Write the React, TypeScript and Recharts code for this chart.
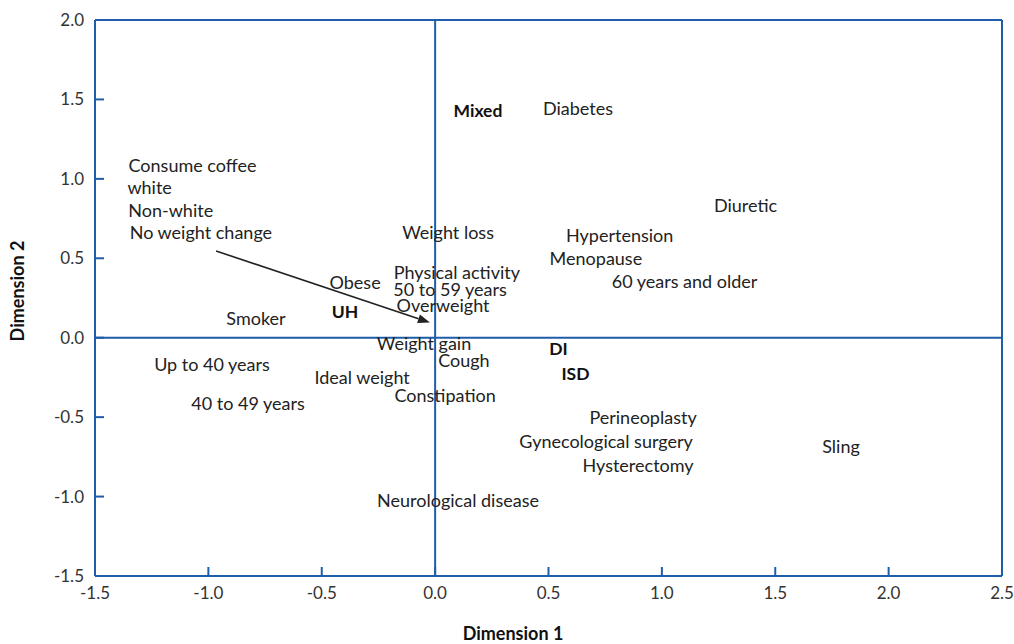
import { ScatterChart, Scatter, XAxis, YAxis, ReferenceLine, Label } from 'recharts';

// outcome groups (drawn bold)
const groupNames = ['Mixed', 'UH', 'DI', 'ISD'];
const groupX = [0.189, -0.397, 0.544, 0.619];
const groupY = [1.427, 0.162, -0.071, -0.228];

// risk factors
const variableNames = [
  'Diabetes', 'Consume coffee', 'white', 'Non-white', 'No weight change', 'Weight loss',
  'Hypertension', 'Menopause', '60 years and older', 'Diuretic', 'Physical activity',
  '50 to 59 years', 'Overweight', 'Obese', 'Smoker', 'Weight gain', 'Cough', 'Ideal weight',
  'Constipation', 'Up to 40 years', '40 to 49 years', 'Perineoplasty', 'Gynecological surgery',
  'Hysterectomy', 'Sling', 'Neurological disease',
];
const variableX = [
  0.63, -1.07, -1.259, -1.166, -1.033, 0.057,
  0.814, 0.709, 1.1, 1.369, 0.096,
  0.066, 0.035, -0.353, -0.79, -0.049, 0.127, -0.322,
  0.044, -0.984, -0.825, 0.917, 0.754,
  0.895, 1.79, 0.101,
];
const variableY = [
  1.44, 1.081, 0.942, 0.798, 0.659, 0.659,
  0.643, 0.496, 0.351, 0.832, 0.407,
  0.304, 0.203, 0.344, 0.118, -0.04, -0.147, -0.254,
  -0.367, -0.172, -0.417, -0.505, -0.656,
  -0.808, -0.688, -1.028,
];

const xTicks = [-1.5, -1.0, -0.5, 0, 0.5, 1.0, 1.5, 2.0, 2.5];
const yTicks = [-1.5, -1.0, -0.5, 0, 0.5, 1.0, 1.5, 2.0];

const arrowFrom = { x: -0.966, y: 0.546 };
const arrowTo = { x: -0.023, y: 0.095 };

const groups = groupNames.map((name, i) => ({ name, x: groupX[i], y: groupY[i] }));
const variables = variableNames.map((name, i) => ({ name, x: variableX[i], y: variableY[i] }));

const BLUE = '#1f5ca9';
const INK = '#222';
const FONT = 'Lato, "Open Sans", sans-serif';

function VariableLabel(props: any) {
  const { cx, cy, payload } = props;
  return (
    <text x={cx} y={cy} dy="0.35em" textAnchor="middle" fontSize={18} fill={INK} fontFamily={FONT}>
      {payload.name}
    </text>
  );
}

function GroupLabel(props: any) {
  const { cx, cy, payload } = props;
  return (
    <text x={cx} y={cy} dy="0.35em" textAnchor="middle" fontSize={17.5} fontWeight="bold" fill="#111" fontFamily={FONT}>
      {payload.name}
    </text>
  );
}

function XTick(props: any) {
  const { x, y, payload } = props;
  return (
    <g>
      <line x1={x} y1={y} x2={x} y2={y - 9} stroke={BLUE} strokeWidth={2} />
      <text x={x} y={y + 17} dy="0.35em" textAnchor="middle" fontSize={17} fill="#333" fontFamily={FONT}>
        {payload.value.toFixed(1)}
      </text>
    </g>
  );
}

function YTick(props: any) {
  const { x, y, payload } = props;
  return (
    <g>
      <line x1={x} y1={y} x2={x + 9} y2={y} stroke={BLUE} strokeWidth={2} />
      <text x={x - 11} y={y} dy="0.35em" textAnchor="end" fontSize={17} fill="#333" fontFamily={FONT}>
        {payload.value.toFixed(1)}
      </text>
    </g>
  );
}

function Arrow(props: any) {
  const { x1, y1, x2, y2 } = props;
  const a = Math.atan2(y2 - y1, x2 - x1);
  const len = 12;
  const w = 4.5;
  const bx = x2 - len * Math.cos(a);
  const by = y2 - len * Math.sin(a);
  const px = -Math.sin(a) * w;
  const py = Math.cos(a) * w;
  return (
    <g>
      <line x1={x1} y1={y1} x2={bx} y2={by} stroke={INK} strokeWidth={1.6} />
      <polygon points={`${x2},${y2} ${bx + px},${by + py} ${bx - px},${by - py}`} fill={INK} />
    </g>
  );
}

export default function App() {
  return (
    <div style={{ position: 'absolute', left: 0, top: 0 }}>
      <ScatterChart width={1014} height={644} margin={{ top: 20, right: 12, bottom: 38, left: 35 }}>
        <XAxis
          type="number"
          dataKey="x"
          domain={[-1.5, 2.5]}
          ticks={xTicks}
          allowDataOverflow
          height={30}
          tickSize={0}
          tickMargin={0}
          tickLine={false}
          axisLine={{ stroke: BLUE, strokeWidth: 2 }}
          tick={<XTick />}
        >
          <Label
            content={(p: any) => (
              <text
                x={p.viewBox.x + 418}
                y={p.viewBox.y + 58}
                dy="0.35em"
                textAnchor="middle"
                fontSize={18}
                fontWeight="bold"
                fill="#111"
                fontFamily={FONT}
              >
                Dimension 1
              </text>
            )}
          />
        </XAxis>
        <YAxis
          type="number"
          dataKey="y"
          domain={[-1.5, 2]}
          ticks={yTicks}
          allowDataOverflow
          width={60}
          tickSize={0}
          tickMargin={0}
          tickLine={false}
          axisLine={{ stroke: BLUE, strokeWidth: 2 }}
          tick={<YTick />}
        >
          <Label
            content={() => {
              const cx = 18;
              const cy = 291;
              return (
                <text
                  x={cx}
                  y={cy}
                  dy="0.35em"
                  textAnchor="middle"
                  fontSize={18}
                  fontWeight="bold"
                  fill="#111"
                  fontFamily={FONT}
                  transform={`rotate(-90 ${cx} ${cy})`}
                >
                  Dimension 2
                </text>
              );
            }}
          />
        </YAxis>
        <ReferenceLine y={2} stroke={BLUE} strokeWidth={2} />
        <ReferenceLine x={2.5} stroke={BLUE} strokeWidth={2} />
        <ReferenceLine x={0} stroke={BLUE} strokeWidth={2} />
        <ReferenceLine y={0} stroke={BLUE} strokeWidth={2} />
        <ReferenceLine segment={[arrowFrom, arrowTo]} shape={<Arrow />} />
        <Scatter data={variables} shape={<VariableLabel />} isAnimationActive={false} />
        <Scatter data={groups} shape={<GroupLabel />} isAnimationActive={false} />
      </ScatterChart>
    </div>
  );
}
